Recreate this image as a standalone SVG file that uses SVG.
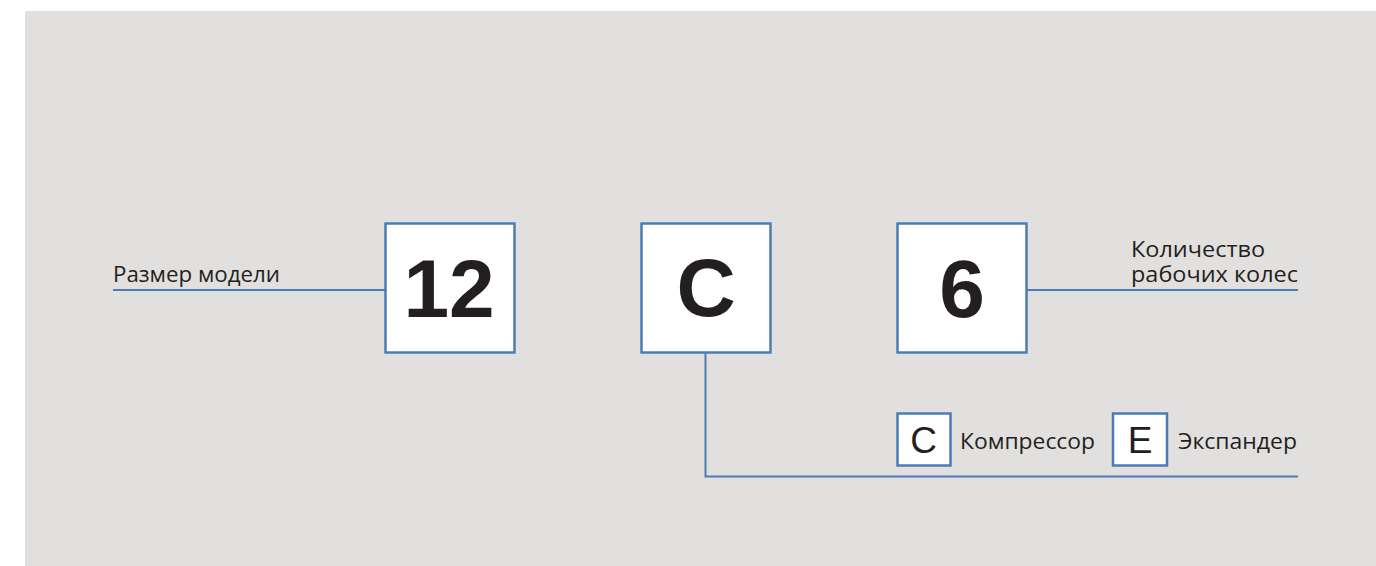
<svg xmlns="http://www.w3.org/2000/svg" width="1376" height="566" viewBox="0 0 1376 566">
<style>
.box{fill:#ffffff;stroke:#4a7db8;stroke-width:2.5}
.sbox{fill:#ffffff;stroke:#4a7db8;stroke-width:2.5}
.ln{fill:none;stroke:#4a7db8;stroke-width:2}
.big{font-family:"Liberation Sans",Arial,sans-serif;font-weight:bold;font-size:82px;fill:#231f20;text-anchor:middle}
.mid{font-family:"Liberation Sans",Arial,sans-serif;font-size:37px;fill:#231f20;text-anchor:middle}
.lbl{font-family:"Open Sans","Noto Sans",sans-serif;font-size:21px;fill:#231f20}
</style>
<rect x="25" y="11" width="1351" height="555" fill="#e2dfdf"/>
<g id="connectors">
<path class="ln" d="M113 290 H385"/>
<path class="ln" d="M1027 290 H1298"/>
<path class="ln" d="M705.5 353 V476.5 H1298"/>
</g>
<g id="label-size"><text class="lbl" x="113" y="282" textLength="167" lengthAdjust="spacingAndGlyphs">Размер модели</text></g>
<g id="node-12"><rect class="box" x="385.5" y="223.5" width="129" height="129"/><text class="big" x="449" y="317">12</text></g>
<g id="node-C"><rect class="box" x="641.5" y="223.5" width="129" height="129"/><text class="big" x="706" y="316">C</text></g>
<g id="node-6"><rect class="box" x="897.5" y="223.5" width="129" height="129"/><text class="big" x="962" y="317">6</text></g>
<g id="label-wheels"><text class="lbl" x="1131" y="257" textLength="134" lengthAdjust="spacingAndGlyphs">Количество</text><text class="lbl" x="1131" y="282" textLength="167" lengthAdjust="spacingAndGlyphs">рабочих колес</text></g>
<g id="legend-C"><rect class="sbox" x="897.5" y="413.5" width="53" height="52"/><text class="mid" x="923.5" y="453">C</text><text class="lbl" x="960" y="449" textLength="135" lengthAdjust="spacingAndGlyphs">Компрессор</text></g>
<g id="legend-E"><rect class="sbox" x="1113" y="413.5" width="54" height="52"/><text class="mid" x="1140" y="453">E</text><text class="lbl" x="1178" y="449" textLength="119" lengthAdjust="spacingAndGlyphs">Экспандер</text></g>
</svg>
